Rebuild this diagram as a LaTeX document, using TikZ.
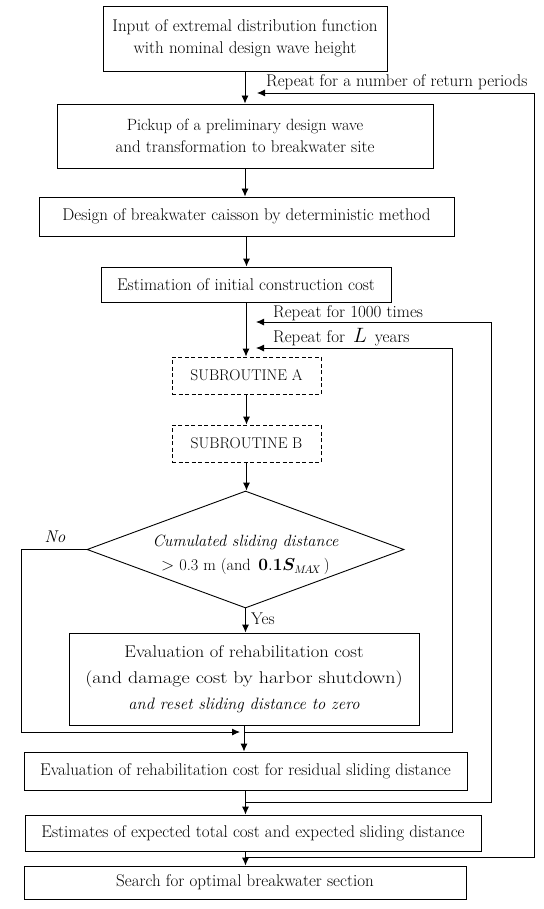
\documentclass[tikz,border=0pt]{standalone}
\usepackage{bm}
\usepackage{graphicx}
\usetikzlibrary{arrows.meta,shapes.geometric}
\begin{document}
\begin{tikzpicture}[x=1pt,y=-1pt,
  font=\fontsize{17}{22}\selectfont,
  box/.style={draw,line width=0.9pt,rectangle,inner sep=0pt,align=center},
  subbox/.style={box,dash pattern=on 4pt off 2.5pt,font=\fontsize{15.5}{20}\selectfont},
  flow/.style={line width=0.9pt,-{Latex[length=8pt,width=7pt]}},
  lbl/.style={inner sep=0pt,anchor=base west}
]
\useasboundingbox (0,0) rectangle (543,909);

% boxes
\node[box,minimum width=284,minimum height=65] (b1) at (245,38.5) {Input of extremal distribution function\\with nominal design wave height};
\node[box,minimum width=376,minimum height=64] (b2) at (245,136) {{\fontsize{16.3}{22}\selectfont Pickup of a preliminary design wave}\\and transformation to breakwater site};
\node[box,minimum width=415,minimum height=39] (b3) at (246.5,216.5) {Design of breakwater caisson by deterministic method};
\node[box,minimum width=290,minimum height=35] (b4) at (246,284.5) {Estimation of initial construction cost};
\node[subbox,minimum width=149,minimum height=37] (sa) at (246.5,375.5) {SUBROUTINE A};
\node[subbox,minimum width=149,minimum height=37] (sb) at (246.5,443.5) {SUBROUTINE B};
\node[diamond,draw,line width=0.9pt,minimum width=317,minimum height=117,inner sep=0pt] (dia) at (245.5,549.5) {};
\node[align=center,inner sep=0pt,font=\fontsize{16.3}{24}\selectfont] (diat) at (245.5,555) {\textit{Cumulated sliding distance}\\$>$ 0.3 m (and \,$\mathbf{0.1}\bm{S}_{M\!A\!X}$\,)};
\node[box,minimum width=350,minimum height=92,font=\fontsize{17}{26}\selectfont] (rh) at (244,679) {\scalebox{1.09}[1]{Evaluation of rehabilitation cost}\\\scalebox{1.18}[1]{(and damage cost by harbor shutdown)}\\{\fontsize{16.5}{26}\selectfont\itshape and reset sliding distance to zero}};
\node[box,minimum width=443,minimum height=38] (rs) at (245.5,771) {Evaluation of rehabilitation cost for residual sliding distance};
\node[box,minimum width=456,minimum height=36] (es) at (253,833) {Estimates of expected total cost and expected sliding distance};
\node[box,minimum width=442,minimum height=33] (se) at (245,882.5) {Search for optimal breakwater section};

% main flow
\draw[flow] (b1.south) -- (b1.south |- b2.north);
\draw[flow] (b2.south) -- (b2.south |- b3.north);
\draw[flow] (b3.south) -- (b3.south |- b4.north);
\draw[flow] (b4.south) -- (b4.south |- sa.north);
\draw[flow] (sa.south) -- (sb.north);
\draw[flow] (sb.south) -- (sb.south |- dia.north);
\draw[flow] (dia.south) -- (dia.south |- rh.north);
\draw[flow] (rh.south) -- (rh.south |- rs.north);
\draw[flow] (rs.south) -- (rs.south |- es.north);
\draw[flow] (rs.south |- es.south) -- (rs.south |- se.north);

% No branch
\coordinate (noL) at (21,549.5);
\coordinate (noEnd) at (240,732);
\draw[flow] (dia.west) -- (noL) |- (noEnd);

% L years loop
\coordinate (Ls) at (244,732);
\coordinate (Lc) at (452,732);
\coordinate (Le) at (256,348);
\draw[flow] (Ls) -- (Lc) |- (Le);

% 1000 times loop
\coordinate (Ts) at (245.5,802);
\coordinate (Tc) at (491,802);
\coordinate (Te) at (256,322);
\draw[flow] (Ts) -- (Tc) |- (Te);

% return periods loop
\coordinate (Rs) at (245.5,857);
\coordinate (Rc) at (534,857);
\coordinate (Re) at (257,93);
\draw[flow] (Rs) -- (Rc) |- (Re);

% labels
\node[lbl] (lr) at (266,87) {Repeat for a number of return periods};
\node[lbl] (lt) at (273,317) {Repeat for 1000 times};
\node[lbl] (ll) at (273,342) {Repeat for \,{\fontsize{20}{20}\selectfont$L$}\, years};
\node[inner sep=0pt] (no) at (55,537) {\textit{No}};
\node[lbl] (yes) at (251,624) {Yes};
\end{tikzpicture}
\end{document}
